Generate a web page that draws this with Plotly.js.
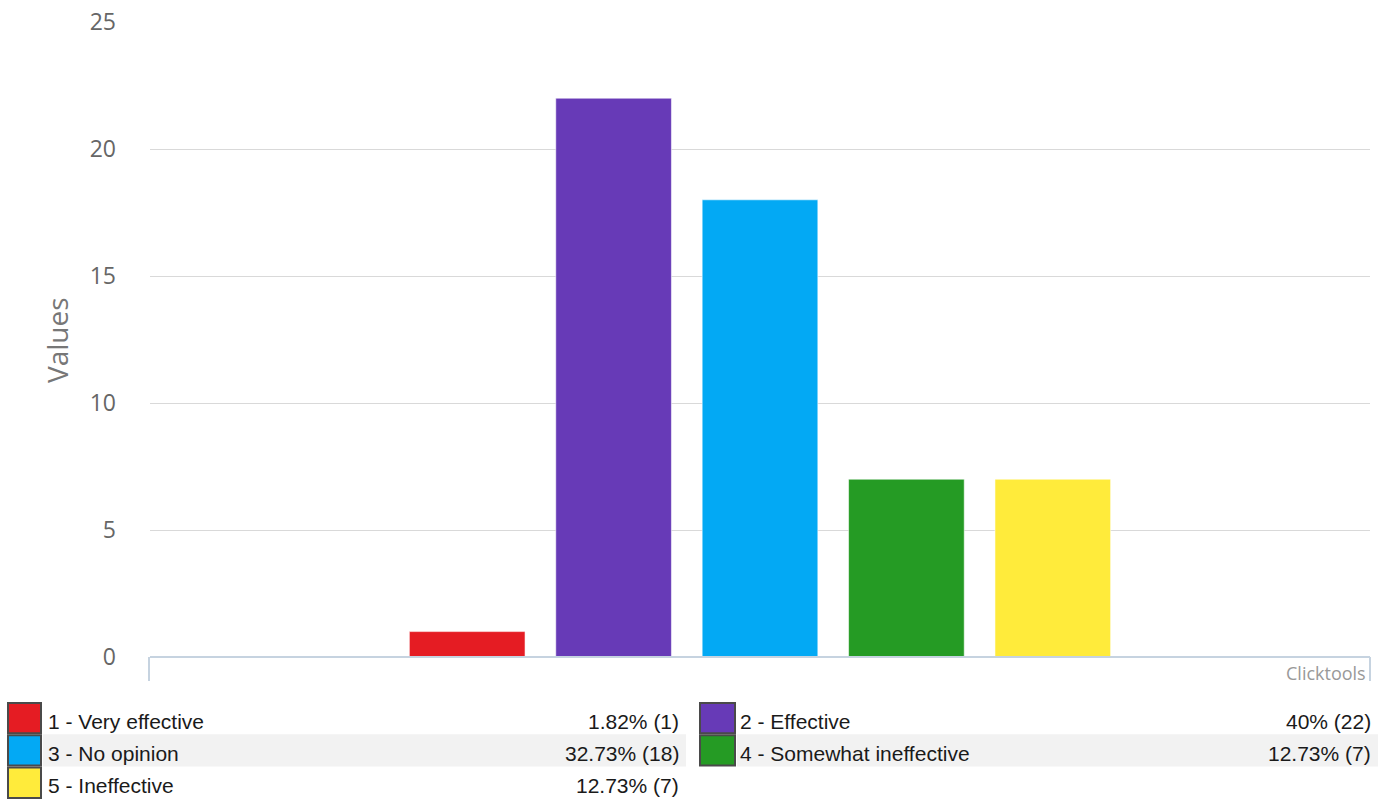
<!DOCTYPE html>
<html><head><meta charset="utf-8">
<script src="https://cdn.plot.ly/plotly-3.0.1.min.js"></script>
<style>html,body{margin:0;padding:0;background:#fff;overflow:hidden}#chart{width:1387px;height:800px}</style>
</head><body><div id="chart"></div>
<script>
const categories = ['1 - Very effective', '2 - Effective', '3 - No opinion', '4 - Somewhat ineffective', '5 - Ineffective'];
const counts = [1, 22, 18, 7, 7];
const colors = ['#e51c23', '#673ab7', '#03a9f4', '#259b24', '#ffeb3b'];
const yTickValues = [0, 5, 10, 15, 20, 25];
const yAxisTitle = 'Values';
const creditText = 'Clicktools';

const W = 1387, H = 800;
const M = {l: 150, r: 17, t: 22, b: 143};
const PW = W - M.l - M.r, PH = H - M.t - M.b;
const px = v => (v - M.l) / PW;
const py = v => (M.t + PH - v) / PH;

const total = counts.reduce((a, b) => a + b, 0);
const pctText = counts.map(c => parseFloat((c / total * 100).toFixed(2)) + '% (' + c + ')');

const traces = categories.map((name, i) => ({
  type: 'bar', x: ['Q'], y: [counts[i]], name: name,
  marker: {color: colors[i], line: {color: 'rgba(255,255,255,0.55)', width: 1}},
  hoverinfo: 'name+y', showlegend: false
}));

const shapes = [
  {type: 'line', xref: 'paper', yref: 'paper', x0: 0, x1: 1, y0: 0, y1: 0, line: {color: '#c6d3e0', width: 2}},
  {type: 'line', xref: 'paper', yref: 'paper', x0: px(149), x1: px(149), y0: 0, y1: py(681), line: {color: '#c6d3e0', width: 2}},
  {type: 'line', xref: 'paper', yref: 'paper', x0: px(1370), x1: px(1370), y0: 0, y1: py(681), line: {color: '#c6d3e0', width: 2}}
];
const annotations = [
  {xref: 'paper', yref: 'paper', x: px(57), y: py(340), text: yAxisTitle, textangle: -90, showarrow: false,
   xanchor: 'center', yanchor: 'middle', font: {family: 'Open Sans', size: 28, color: '#777'}},
  {xref: 'paper', yref: 'paper', x: px(1368), y: py(673), text: creditText, showarrow: false,
   xanchor: 'right', yanchor: 'middle', font: {family: 'Open Sans', size: 18, color: '#999'}}
];

// legend table
const colCfg = [
  {sw0: 8, sw1: 41, bg0: 43, bg1: 686, txt: 46, val: 681},
  {sw0: 700, sw1: 735, bg0: 737, bg1: 1378, txt: 738, val: 1373}
];
const rowTop = 702, rowH = 32.3;
categories.forEach((name, i) => {
  const r = Math.floor(i / 2), c = colCfg[i % 2];
  const t = rowTop + r * rowH, b = t + rowH, mid = (t + b) / 2;
  if (r % 2 === 1) {
    shapes.push({type: 'rect', xref: 'paper', yref: 'paper', x0: px(c.bg0), x1: px(c.bg1), y0: py(b), y1: py(t),
      fillcolor: '#f2f2f2', line: {width: 0}, layer: 'below'});
  }
  shapes.push({type: 'rect', xref: 'paper', yref: 'paper', x0: px(c.sw0), x1: px(c.sw1), y0: py(b - 1), y1: py(t + 1),
    fillcolor: colors[i], line: {color: '#4a4a4a', width: 2}});
  annotations.push({xref: 'paper', yref: 'paper', x: px(c.txt), y: py(mid + 3), text: name, showarrow: false,
    xanchor: 'left', yanchor: 'middle', font: {family: 'Liberation Sans, Arial', size: 21, color: '#1a1a1a'}});
  annotations.push({xref: 'paper', yref: 'paper', x: px(c.val), y: py(mid + 3), text: pctText[i], showarrow: false,
    xanchor: 'right', yanchor: 'middle', font: {family: 'Liberation Sans, Arial', size: 21, color: '#1a1a1a'}});
});

const layout = {
  width: W, height: H, margin: M, paper_bgcolor: '#fff', plot_bgcolor: '#fff',
  barmode: 'group', bargap: 0.4, bargroupgap: 0.21, showlegend: false,
  xaxis: {type: 'category', range: [-0.5, 0.5], showticklabels: false, showgrid: false, zeroline: false, showline: false, fixedrange: true},
  yaxis: {range: [0, 25], tickvals: yTickValues, showgrid: true, gridcolor: '#d9d9d9', gridwidth: 1, zeroline: false, showline: false,
    ticks: '', ticklabelstandoff: 33, tickfont: {family: 'Open Sans', size: 23, color: '#666'}, fixedrange: true},
  shapes: shapes, annotations: annotations
};
Plotly.newPlot('chart', traces, layout, {displayModeBar: false, staticPlot: true});
</script></body></html>
